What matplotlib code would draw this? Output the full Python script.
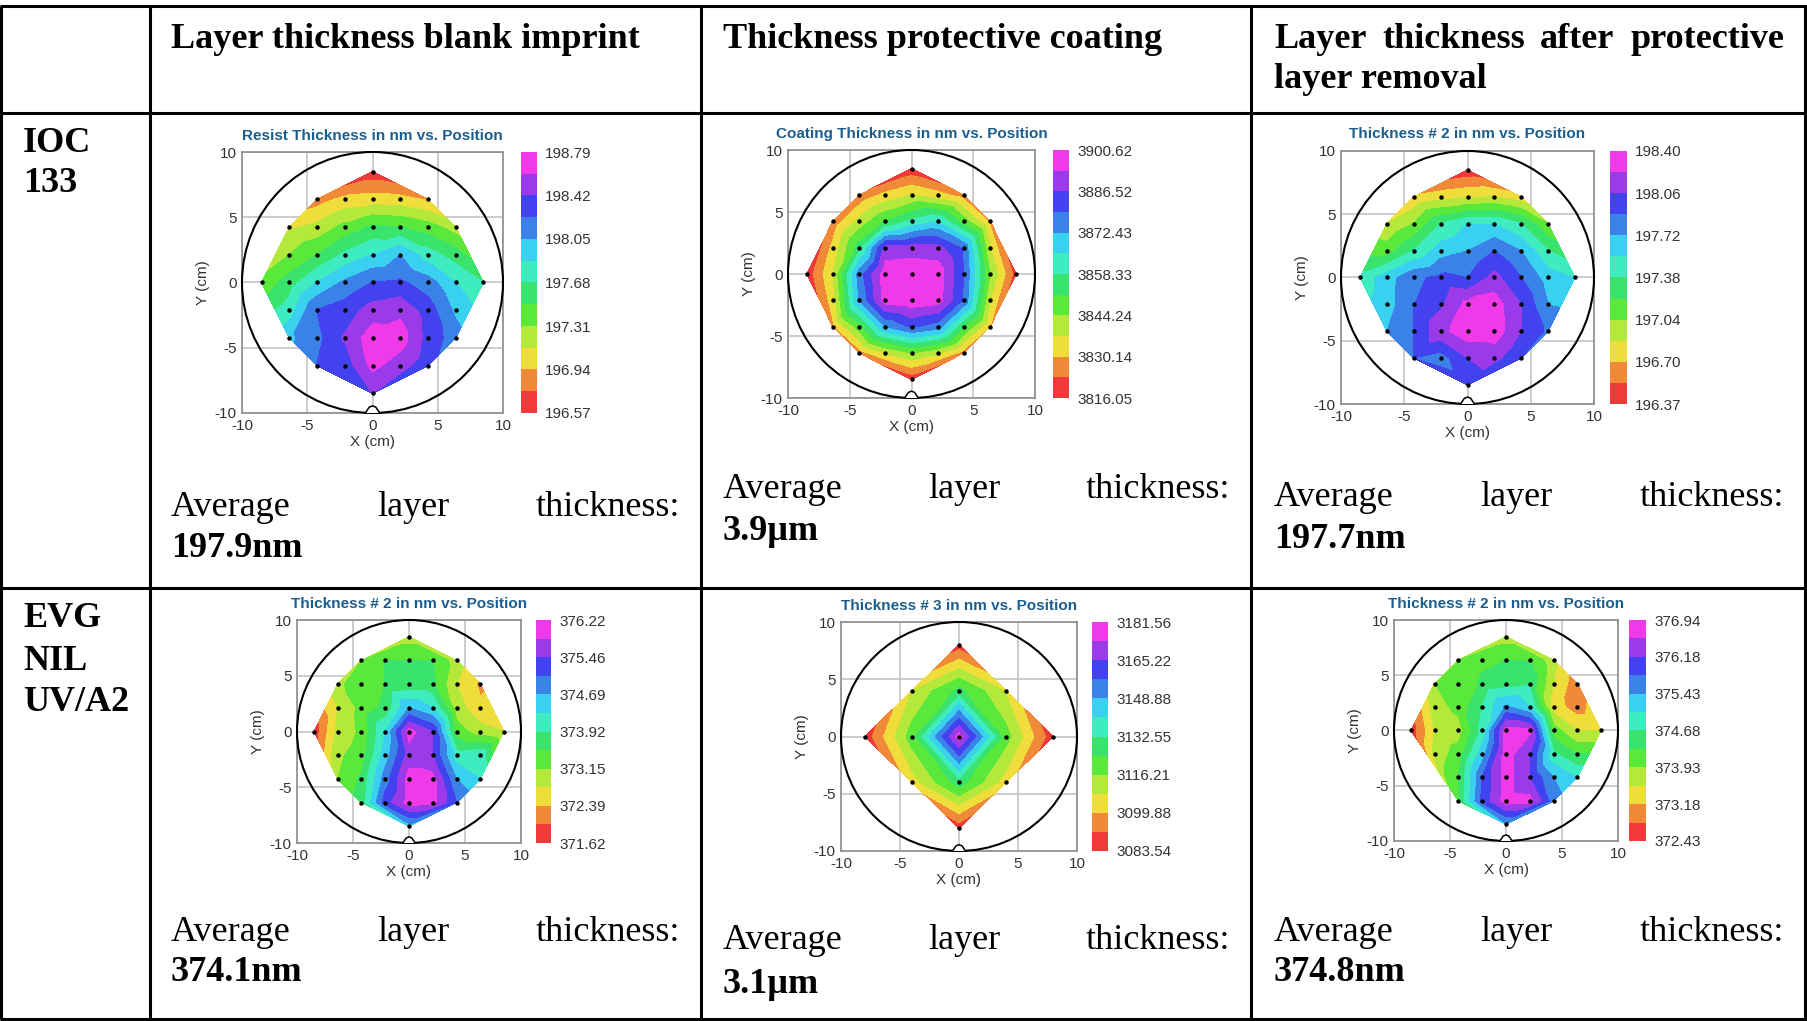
import numpy as np
import matplotlib
matplotlib.use("Agg")
import matplotlib.pyplot as plt
import matplotlib.tri as mtri
from matplotlib.patches import Circle, Polygon

plt.rcParams['font.family'] = ['Liberation Sans', 'DejaVu Sans']
plt.rcParams['axes.unicode_minus'] = False

W, H = 1807, 1021

# 49 measurement sites: one row of x positions per y row (cm)
ROW_Y = [8.5, 6.375, 4.25, 2.125, 0.0, -2.125, -4.25, -6.375, -8.5]
X5 = [-4.25, -2.125, 0.0, 2.125, 4.25]
X7 = [-6.375, -4.25, -2.125, 0.0, 2.125, 4.25, 6.375]
X9 = [-8.5, -6.375, -4.25, -2.125, 0.0, 2.125, 4.25, 6.375, 8.5]
ROW_X = [[0.0], X5, X7, X7, X9, X7, X7, X5, [0.0]]

# IOC 133 - blank imprint (nm)
ioc_blank = [
    [196.63],
    [196.85, 197.00, 197.03, 197.01, 196.92],
    [197.09, 197.18, 197.37, 197.53, 197.50, 197.40, 197.22],
    [197.31, 197.50, 197.72, 197.87, 198.05, 197.77, 197.59],
    [197.36, 197.59, 197.87, 198.09, 198.24, 198.27, 198.14, 197.87, 197.68],
    [197.77, 198.24, 198.33, 198.50, 198.56, 198.33, 198.01],
    [198.01, 198.18, 198.44, 198.72, 198.70, 198.35, 198.14],
    [198.24, 198.31, 198.66, 198.50, 198.29],
    [198.42],
]
ioc_blank_cb = [196.57, 196.94, 197.31, 197.68, 198.05, 198.42, 198.79]

# IOC 133 - protective coating (nm)
ioc_coat = [
    [3818.16],
    [3824.51, 3832.26, 3837.19, 3832.96, 3826.62],
    [3825.21, 3839.31, 3851.29, 3859.74, 3865.38, 3847.76, 3828.74],
    [3832.26, 3854.81, 3889.00, 3890.00, 3889.00, 3878.07, 3837.19],
    [3818.16, 3837.19, 3875.95, 3898.00, 3899.00, 3898.00, 3879.48, 3844.24, 3819.57],
    [3833.67, 3872.43, 3897.00, 3899.00, 3897.00, 3878.07, 3837.19],
    [3828.74, 3847.76, 3872.43, 3880.50, 3875.95, 3851.29, 3830.15],
    [3826.62, 3837.19, 3844.24, 3838.60, 3826.62],
    [3818.16],
]
ioc_coat_cb = [3816.05, 3830.14, 3844.24, 3858.33, 3872.43, 3886.52, 3900.62]

# IOC 133 - after protective layer removal (nm)
ioc_after = [
    [196.42],
    [196.74, 196.81, 196.86, 196.88, 196.78],
    [196.88, 197.05, 197.39, 197.55, 197.55, 197.39, 197.05],
    [197.13, 197.39, 197.64, 197.72, 197.89, 197.72, 197.39],
    [197.45, 197.64, 197.86, 197.93, 197.89, 198.12, 197.89, 197.64, 197.55],
    [197.64, 197.89, 198.03, 198.28, 198.32, 198.06, 197.72],
    [197.72, 197.89, 198.18, 198.34, 198.33, 198.06, 197.86],
    [197.89, 197.81, 198.06, 198.12, 197.89],
    [197.98],
]
ioc_after_cb = [196.37, 196.70, 197.04, 197.38, 197.72, 198.06, 198.40]

# EVG NIL UV/A2 - blank imprint (nm)
evg_blank = [
    [372.96],
    [373.15, 373.54, 373.54, 373.54, 372.96],
    [373.08, 373.34, 373.54, 373.65, 373.61, 372.77, 372.31],
    [372.77, 373.27, 373.65, 374.69, 374.30, 372.96, 372.46],
    [371.74, 372.88, 373.23, 374.30, 376.00, 375.45, 373.34, 372.96, 372.77],
    [373.08, 373.34, 374.49, 375.64, 375.45, 374.11, 374.23],
    [373.15, 373.61, 374.88, 376.00, 375.98, 374.69, 374.30],
    [373.73, 375.26, 376.00, 375.98, 375.07],
    [374.49],
]
evg_blank_cb = [371.62, 372.39, 373.15, 373.92, 374.69, 375.46, 376.22]

# EVG NIL UV/A2 - protective coating, 13-point map (nm)
coat13_x = [0, -4, 0, 4, -8, -4, 0, 4, 8, -4, 0, 4, 0]
coat13_y = [8, 4, 4, 4, 0, 0, 0, 0, 0, -4, -4, -4, -8]
evg_coat = [3087.62, 3108.04, 3126.83, 3107.20, 3085.99, 3120.30, 3177.47,
            3119.50, 3085.99, 3103.96, 3128.46, 3103.96, 3086.81]
evg_coat_cb = [3083.54, 3099.88, 3116.21, 3132.55, 3148.88, 3165.22, 3181.56]

# EVG NIL UV/A2 - after protective layer removal (nm), one site missing
evg_after = [
    [373.75],
    [373.93, 374.23, 374.31, 374.31, 373.67],
    [373.93, 374.01, 374.38, 374.50, 374.61, 373.56, 372.92],
    [373.75, 374.05, 374.68, 375.51, 375.06, 373.37, 372.99],
    [372.54, 373.56, 373.75, 374.80, 376.75, 376.65, 374.12, 373.56, 373.56],
    [373.67, 374.12, 375.25, 376.75, 376.19, 374.76, 374.31],
    [None, 374.31, 375.81, 376.75, 376.19, 375.44, 375.06],
    [374.31, 375.93, 376.75, 376.70, 375.62],
    [375.36],
]
evg_after_cb = [372.43, 373.18, 373.93, 374.68, 375.43, 376.18, 376.94]

COLORS = ['#f03a3a', '#f08a38', '#eedd3a', '#b4e83a', '#5ae83a', '#3ae46c',
          '#3eecc0', '#3ad0f0', '#3a82e8', '#4242ee', '#9a3ae8', '#f03aea']

fig = plt.figure(figsize=(W / 100, H / 100), dpi=100)


def frac(l, t, r, b):
    return [l / W, 1 - b / H, (r - l) / W, (b - t) / H]


def flatten(rows):
    xs, ys, zs = [], [], []
    for y, xrow, zrow in zip(ROW_Y, ROW_X, rows):
        for x, z in zip(xrow, zrow):
            if z is None:
                continue
            xs.append(x); ys.append(y); zs.append(z)
    return xs, ys, zs


def wafer_map(box, cb_lr, title, xs, ys, zs, cb_vals):
    ax = fig.add_axes(frac(*box))
    levels = np.linspace(cb_vals[0], cb_vals[-1], 13)
    tri = mtri.Triangulation(xs, ys)
    cs = ax.tricontourf(tri, zs, levels=levels, colors=COLORS, zorder=1)
    ax.plot(xs, ys, 'o', ms=2.2, color='black', zorder=4)
    ax.add_patch(Circle((0, 0), 10, fill=False, ec='black', lw=1.5, zorder=3, clip_on=False))
    notch = [(-0.55, -10), (-0.25, -9.55), (0, -9.45), (0.25, -9.55), (0.55, -10)]
    ax.add_patch(Polygon(notch, closed=False, fc='white', ec='black', lw=1.1, zorder=3, clip_on=False))
    ax.set_xlim(-10, 10)
    ax.set_ylim(-10, 10)
    ax.set_xticks([-10, -5, 0, 5, 10])
    ax.set_yticks([-10, -5, 0, 5, 10])
    ax.grid(True, color='#c4c4c4', lw=1.2)
    ax.set_axisbelow(True)
    ax.tick_params(length=0, labelsize=11, colors='#333333', pad=4)
    for s in ax.spines.values():
        s.set_color('#8c8c8c')
        s.set_linewidth(1.2)
    ax.set_title(title, fontsize=11, fontweight='bold', color='#1b5d8c', pad=9)
    ax.set_xlabel('X (cm)', fontsize=11, color='#333333', labelpad=2)
    ax.set_ylabel('Y (cm)', fontsize=11, color='#333333', labelpad=3)
    cax = fig.add_axes(frac(cb_lr[0], box[1], cb_lr[1], box[3]))
    cb = fig.colorbar(cs, cax=cax, ticks=levels[::2])
    cb.set_ticklabels(['%.2f' % v for v in cb_vals])
    cb.outline.set_visible(False)
    cax.tick_params(length=0, labelsize=11, colors='#333333', pad=6)


# table frame and texts on a full-figure overlay
ov = fig.add_axes([0, 0, 1, 1])
ov.set_xlim(0, W)
ov.set_ylim(H, 0)
ov.axis('off')

for y in [6, 113, 588, 1019]:
    ov.plot([0, W], [y, y], color='black', lw=2.2, solid_capstyle='butt')
for x in [1.5, 150, 701, 1251, 1805]:
    ov.plot([x, x], [6, 1019], color='black', lw=2.2, solid_capstyle='butt')

serif = 'Liberation Serif'
FS = 26

renderer = fig.canvas.get_renderer()


def justify(words, x0, x1, y, **kw):
    ts = [ov.text(x0, y, w, ha='left', va='baseline', family=serif, fontsize=FS, **kw) for w in words]
    widths = [t.get_window_extent(renderer).width for t in ts]
    gap = (x1 - x0 - sum(widths)) / (len(words) - 1)
    x = x0
    for t, w in zip(ts, widths):
        t.set_x(x)
        x += w + gap


def put(x, y, s, bold=False):
    ov.text(x, y, s, ha='left', va='baseline', family=serif, fontsize=FS,
            fontweight='bold' if bold else 'normal')


put(171, 48, 'Layer thickness blank imprint', True)
put(723, 48, 'Thickness protective coating', True)
justify(['Layer', 'thickness', 'after', 'protective'], 1274, 1784, 48, fontweight='bold')
put(1274, 88, 'layer removal', True)

for s, y in [('IOC', 152), ('133', 192), ('EVG', 627), ('NIL', 670), ('UV/A2', 711)]:
    put(23, y, s, True)

averages = [
    (171, 680, 516, 557, '197.9nm'),
    (723, 1230, 498, 540, '3.9µm'),
    (1274, 1784, 506, 548, '197.7nm'),
    (171, 680, 941, 981, '374.1nm'),
    (723, 1230, 949, 993, '3.1µm'),
    (1274, 1784, 941, 981, '374.8nm'),
]
for x0, x1, y0, y1, val in averages:
    justify(['Average', 'layer', 'thickness:'], x0, x1, y0)
    put(x0, y1, val, True)

wafer_map((242, 152, 503, 413), (521, 537), 'Resist Thickness in nm vs. Position',
          *flatten(ioc_blank), ioc_blank_cb)
wafer_map((788, 150, 1035, 398), (1053, 1069), 'Coating Thickness in nm vs. Position',
          *flatten(ioc_coat), ioc_coat_cb)
wafer_map((1341, 151, 1594, 404), (1610, 1627), 'Thickness # 2 in nm vs. Position',
          *flatten(ioc_after), ioc_after_cb)
wafer_map((297, 620, 521, 843), (536, 551), 'Thickness # 2 in nm vs. Position',
          *flatten(evg_blank), evg_blank_cb)
wafer_map((841, 622, 1077, 851), (1092, 1108), 'Thickness # 3 in nm vs. Position',
          coat13_x, coat13_y, evg_coat, evg_coat_cb)
wafer_map((1394, 620, 1618, 841), (1629, 1646), 'Thickness # 2 in nm vs. Position',
          *flatten(evg_after), evg_after_cb)

fig.savefig('out.png', dpi=100)
